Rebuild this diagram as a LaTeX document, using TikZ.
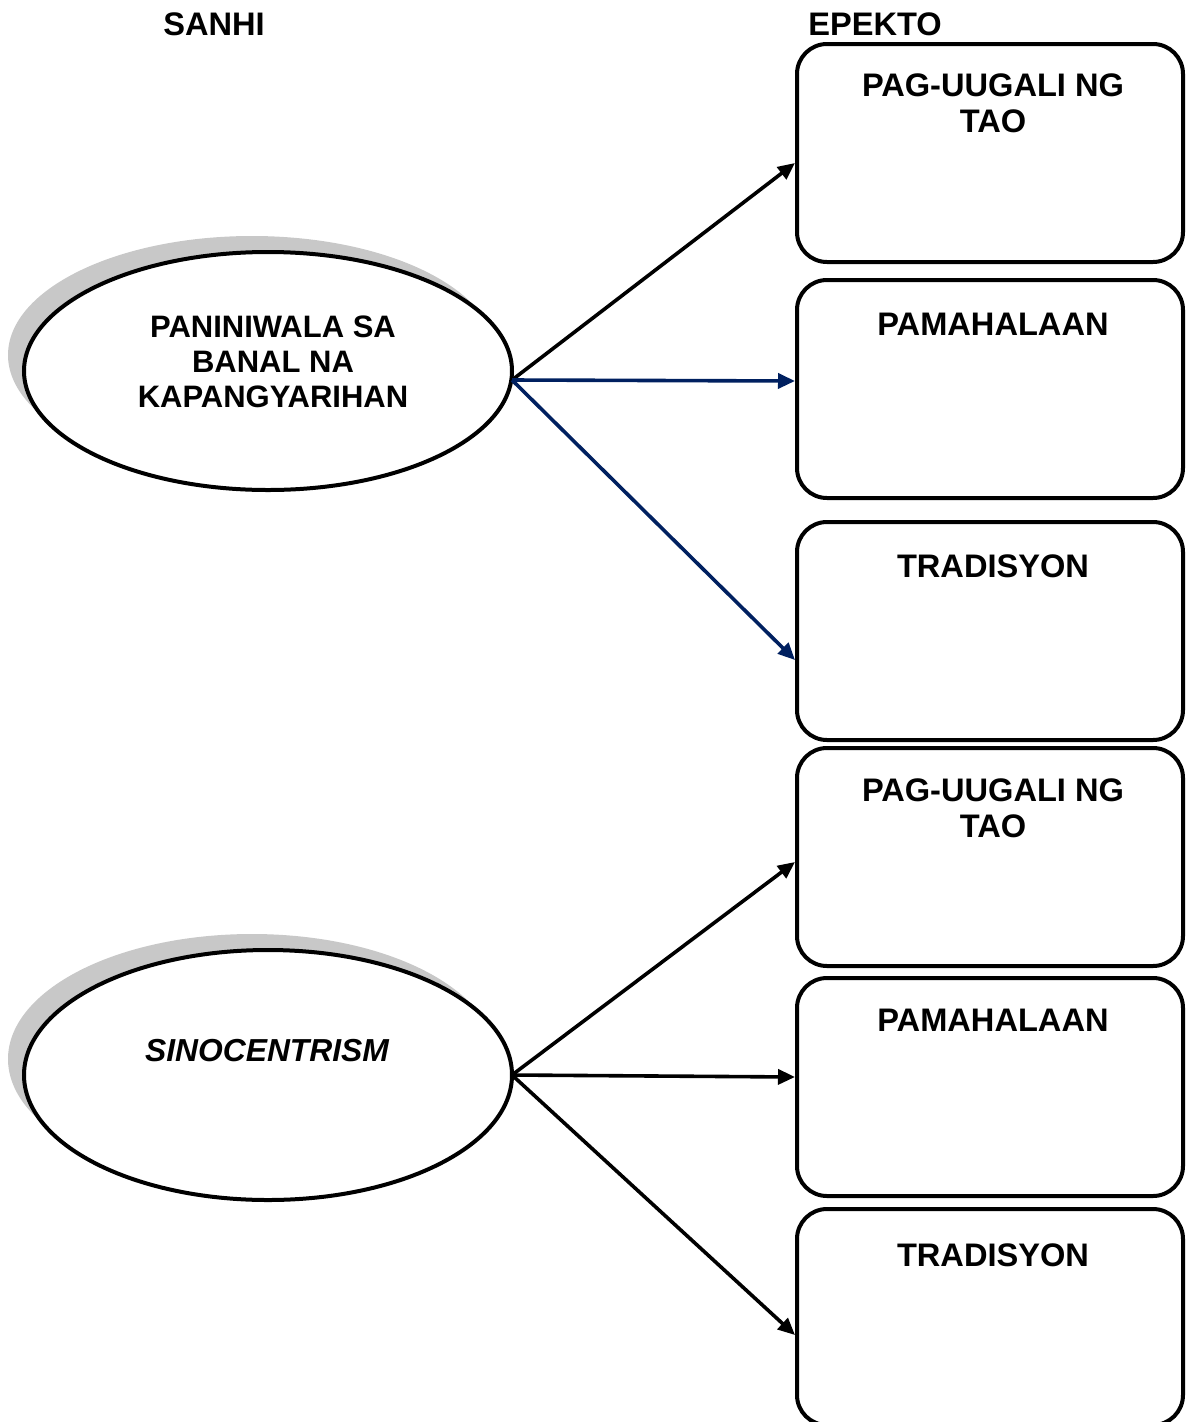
\documentclass[tikz,border=0pt]{standalone}
\usepackage{fontspec}
\setmainfont{Liberation Sans}
\usetikzlibrary{shapes.geometric,arrows.meta}
\definecolor{navyline}{RGB}{0,32,96}
\definecolor{shadowgray}{RGB}{200,200,200}
\tikzset{
  causebox/.style={ellipse,draw=black,line width=4pt,fill=white,inner sep=0pt},
  effectbox/.style={draw=black,line width=4pt,rounded corners=30pt,minimum width=386pt,minimum height=218pt,inner sep=0pt,fill=white},
  lbl/.style={font=\fontsize{31}{35}\selectfont\bfseries,align=center,inner sep=0pt},
  blbl/.style={font=\fontsize{32.6}{36}\selectfont\bfseries,align=center,inner sep=0pt},
  conn/.style={line width=3.6pt,-{Triangle[length=17pt,width=15pt]}},
}
\begin{document}
\begin{tikzpicture}[x=1pt,y=-1pt]
\useasboundingbox (0,0) rectangle (1186,1422);
% headers
\node[blbl,anchor=base] (sanhi) at (214,35) {SANHI};
\node[blbl,anchor=base] (epekto) at (875,35) {EPEKTO};
% shadows
\fill[shadowgray] (252,355) ellipse [x radius=244, y radius=119];
\fill[shadowgray] (252,1059) ellipse [x radius=244, y radius=125];
% causes
\node[causebox,minimum width=488pt,minimum height=238pt] (e1) at (268,371) {};
\node[lbl] (t1) at (273,362) {PANINIWALA SA\\BANAL NA\\KAPANGYARIHAN};
\node[causebox,minimum width=488pt,minimum height=250pt] (e2) at (268,1075) {};
\node[lbl,font=\fontsize{31.8}{35}\selectfont\bfseries\itshape] (t2) at (267,1051) {SINOCENTRISM};
% effects
\node[effectbox] (b1) at (990,153) {};
\node[effectbox] (b2) at (990,389) {};
\node[effectbox] (b3) at (990,631) {};
\node[effectbox] (b4) at (990,857) {};
\node[effectbox] (b5) at (990,1087) {};
\node[effectbox,minimum height=216pt] (b6) at (990,1317) {};
\node[blbl] (l1) at (993,103) {PAG-UUGALI NG\\TAO};
\node[blbl] (l2) at (993,324) {PAMAHALAAN};
\node[blbl] (l3) at (993,566) {TRADISYON};
\node[blbl] (l4) at (993,808) {PAG-UUGALI NG\\TAO};
\node[blbl] (l5) at (993,1020) {PAMAHALAAN};
\node[blbl] (l6) at (993,1255) {TRADISYON};
% connectors
\coordinate (s1) at (512,380);
\coordinate (s2) at (512,1075);
\draw[conn] (s1) -- (b1.west |- 0,163);
\draw[conn,navyline] (s1) -- (b2.west |- 0,381);
\draw[conn,navyline] (s1) -- (b3.west |- 0,660);
\draw[conn] (s2) -- (b4.west |- 0,862);
\draw[conn] (s2) -- (b5.west |- 0,1077);
\draw[conn] (s2) -- (b6.west |- 0,1335);
\end{tikzpicture}
\end{document}
